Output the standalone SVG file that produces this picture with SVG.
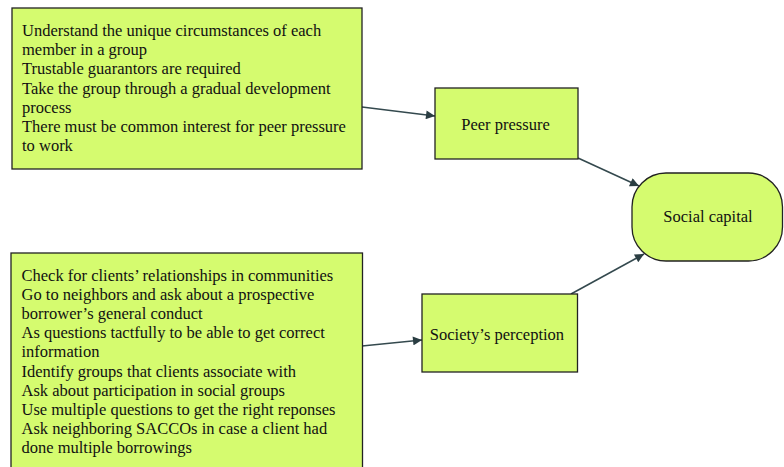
<svg xmlns="http://www.w3.org/2000/svg" width="784" height="467" viewBox="0 0 784 467">
<defs>
<style>
.box{fill:#d5fb6f;stroke:#222;stroke-width:1.3}
.t{font-family:"Liberation Serif","Times New Roman",serif;font-size:16.5px;fill:#111}
.c{text-anchor:middle}
.conn{stroke:#34494e;stroke-width:1.6;fill:none;marker-end:url(#ah)}
</style>
<marker id="ah" viewBox="0 0 10 10" refX="10" refY="5" markerWidth="11" markerHeight="9" orient="auto" markerUnits="userSpaceOnUse">
<path d="M0,0 L10,5 L0,10 Z" fill="#2a3d42"/>
</marker>
</defs>
<rect width="784" height="467" fill="#fff"/>
<g id="connectors">
<line class="conn" x1="362" y1="107" x2="435" y2="116"/>
<line class="conn" x1="578" y1="158" x2="639" y2="186"/>
<line class="conn" x1="362" y1="346" x2="422" y2="340"/>
<line class="conn" x1="571" y1="294" x2="644" y2="254"/>
</g>
<g id="peer-criteria">
<rect class="box" x="12" y="8" width="350" height="161"/>
<text class="t">
<tspan x="22" y="36">Understand the unique circumstances of each</tspan>
<tspan x="22" y="55.2">member in a group</tspan>
<tspan x="22" y="74.4">Trustable guarantors are required</tspan>
<tspan x="22" y="93.6">Take the group through a gradual development</tspan>
<tspan x="22" y="112.8">process</tspan>
<tspan x="22" y="132">There must be common interest for peer pressure</tspan>
<tspan x="22" y="151.2">to work</tspan>
</text>
</g>
<g id="society-criteria">
<rect class="box" x="11" y="253" width="351.5" height="230"/>
<text class="t">
<tspan x="21.5" y="280.5">Check for clients’ relationships in communities</tspan>
<tspan x="21.5" y="299.7">Go to neighbors and ask about a prospective</tspan>
<tspan x="21.5" y="318.9">borrower’s general conduct</tspan>
<tspan x="21.5" y="338.1">As questions tactfully to be able to get correct</tspan>
<tspan x="21.5" y="357.3">information</tspan>
<tspan x="21.5" y="376.5">Identify groups that clients associate with</tspan>
<tspan x="21.5" y="395.7">Ask about participation in social groups</tspan>
<tspan x="21.5" y="414.9">Use multiple questions to get the right reponses</tspan>
<tspan x="21.5" y="434.1">Ask neighboring SACCOs in case a client had</tspan>
<tspan x="21.5" y="453.3">done multiple borrowings</tspan>
</text>
</g>
<g id="peer-pressure">
<rect class="box" x="435" y="88" width="143" height="71"/>
<text class="t c" x="505.5" y="130">Peer pressure</text>
</g>
<g id="society-perception">
<rect class="box" x="422" y="294" width="155.5" height="78"/>
<text class="t c" x="497" y="340">Society’s perception</text>
</g>
<g id="social-capital">
<rect class="box" x="632" y="173" width="150.5" height="88" rx="34" ry="34"/>
<text class="t c" x="708" y="222">Social capital</text>
</g>
</svg>
